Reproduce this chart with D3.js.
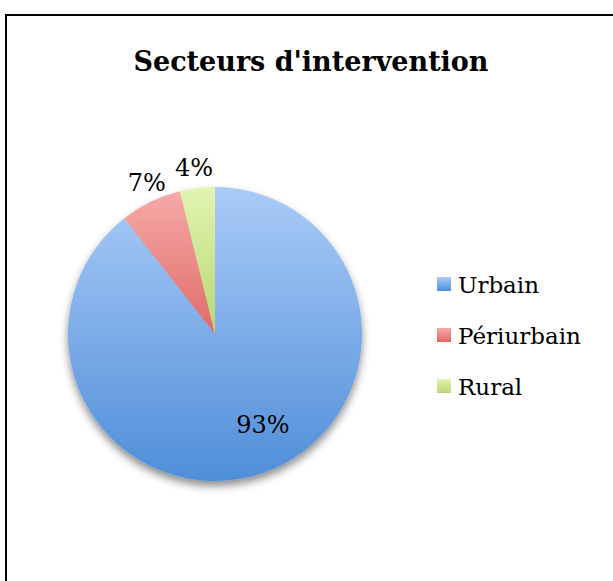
<!DOCTYPE html>
<html><head><meta charset="utf-8">
<script src="https://cdn.jsdelivr.net/npm/d3@7"></script>
<style>html,body{margin:0;padding:0;background:#fff;overflow:hidden}</style>
</head><body>
<script>
const categories = ["Urbain", "Périurbain", "Rural"];
const values = [93, 7, 4];
const labels = ["93%", "7%", "4%"];
const title = "Secteurs d'intervention";
const topColors = ["#aacbf7", "#f6aaa8", "#e2f4b0"];
const bottomColors = ["#4f8ed9", "#e06a67", "#b9d672"];

const W = 613, H = 581;
const svg = d3.select("body").append("svg").attr("width", W).attr("height", H);
const defs = svg.append("defs");
categories.forEach((c, i) => {
  const g = defs.append("linearGradient").attr("id", "g" + i)
    .attr("x1", 0).attr("y1", 0).attr("x2", 0).attr("y2", 1);
  g.append("stop").attr("offset", "0%").attr("stop-color", topColors[i]);
  g.append("stop").attr("offset", "100%").attr("stop-color", bottomColors[i]);
});
const f = defs.append("filter").attr("id", "sh").attr("x", "-20%").attr("y", "-20%").attr("width", "140%").attr("height", "140%");
f.append("feDropShadow").attr("dx", 0).attr("dy", 5).attr("stdDeviation", 4)
  .attr("flood-color", "#000").attr("flood-opacity", 0.45);

svg.append("rect").attr("x", 6).attr("y", 15).attr("width", 700).attr("height", 700)
  .attr("fill", "none").attr("stroke", "#000").attr("stroke-width", 2);

svg.append("text").attr("x", 311).attr("y", 71).attr("text-anchor", "middle")
  .attr("font-family", "DejaVu Serif").attr("font-weight", "bold").attr("font-size", 27)
  .text(title);

const cx = 215, cy = 334, r = 147;
const pie = d3.pie().sort(null).value(d => d)(values);
const arc = d3.arc().innerRadius(0).outerRadius(r);
const gp = svg.append("g").attr("transform", `translate(${cx},${cy})`);
const gs = gp.append("g").attr("filter", "url(#sh)");
gs.selectAll("path").data(pie).join("path")
  .attr("d", arc).attr("fill", (d, i) => `url(#g${i})`);

// label placement: radius factor and angular shift (radians) per slice
const labelRadius = [0.695, 1.13, 1.14];
const labelShift = [-0.155, 0.03, -0.005];
gp.selectAll("text.lbl").data(pie).join("text").attr("class", "lbl")
  .attr("transform", (d, i) => {
    const a = (d.startAngle + d.endAngle) / 2 + labelShift[i];
    const rr = r * labelRadius[i];
    return `translate(${Math.sin(a) * rr},${-Math.cos(a) * rr})`;
  })
  .attr("text-anchor", "middle").attr("dy", "0.35em")
  .attr("font-family", "DejaVu Serif").attr("font-size", 24)
  .text((d, i) => labels[i]);

const leg = svg.append("g").attr("transform", "translate(437,277)");
categories.forEach((c, i) => {
  const y = i * 51;
  leg.append("rect").attr("x", 0).attr("y", y).attr("width", 14).attr("height", 14)
    .attr("fill", `url(#g${i})`);
  leg.append("text").attr("x", 21).attr("y", y + 16)
    .attr("font-family", "DejaVu Serif").attr("font-size", 23).text(c);
});
</script>
</body></html>
